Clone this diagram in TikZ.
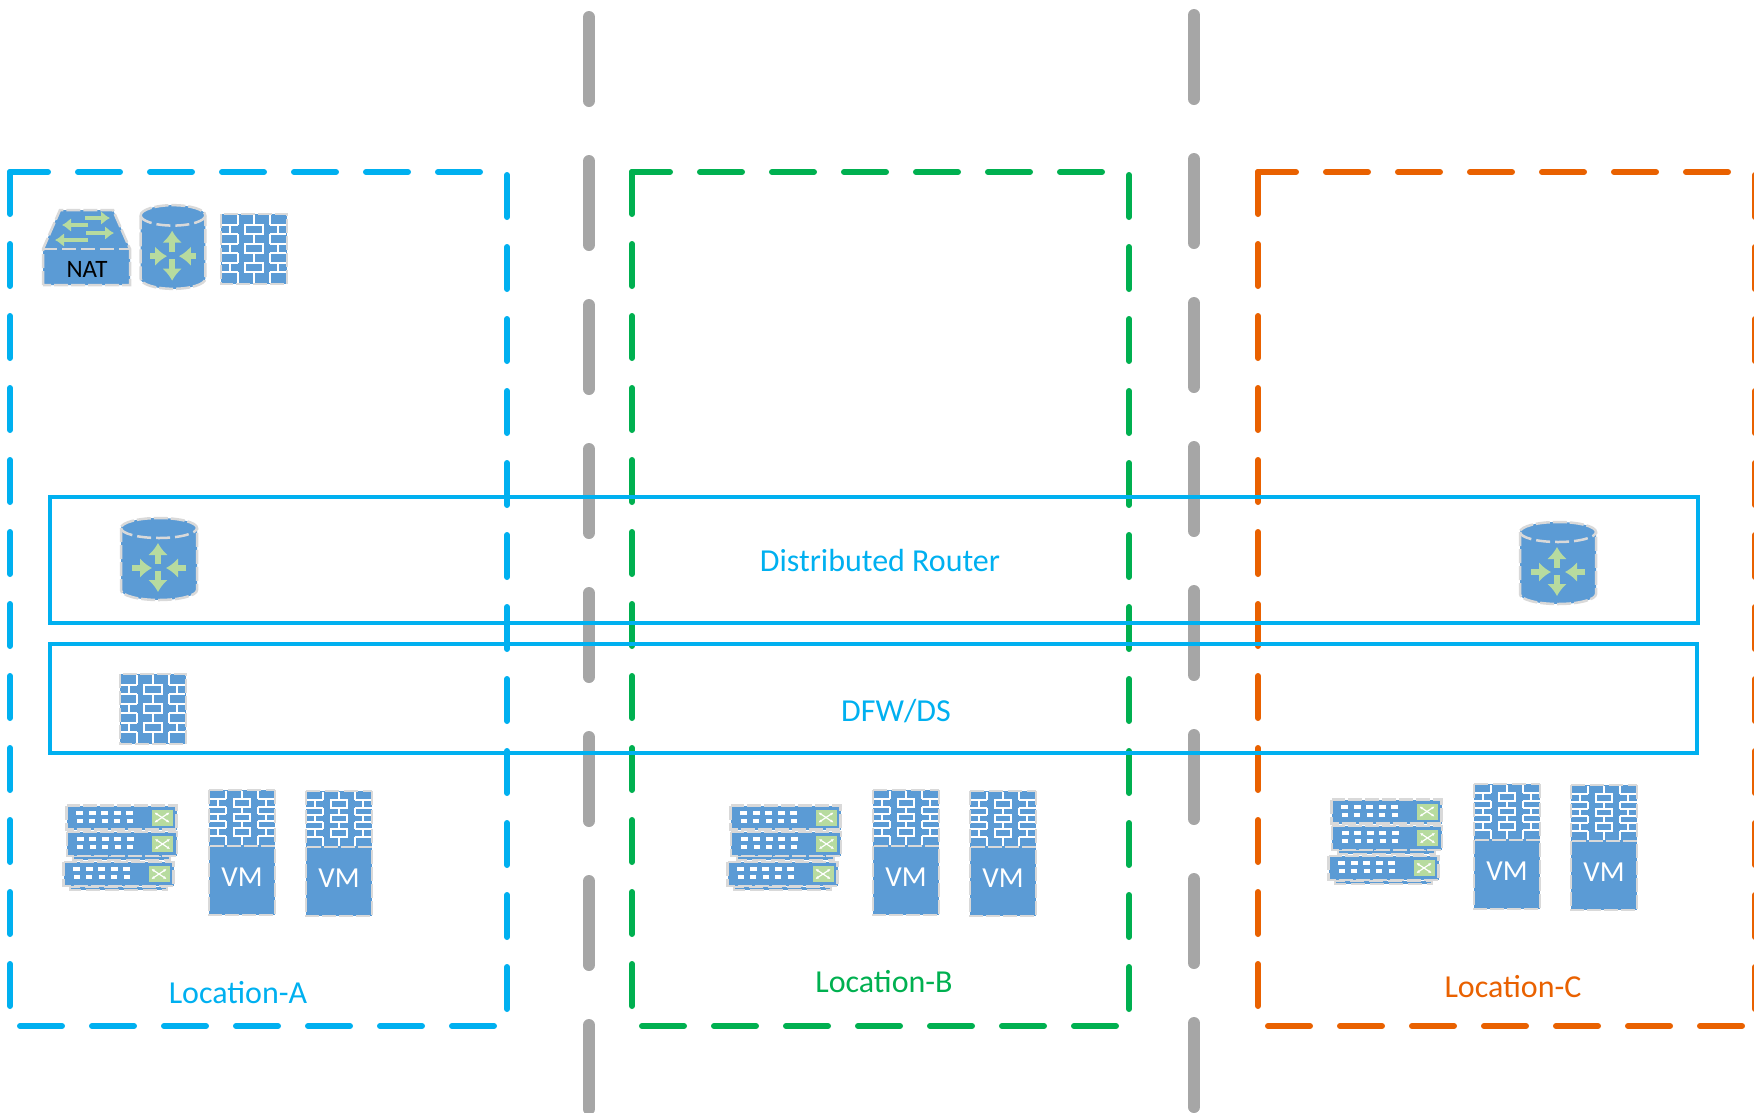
\documentclass[tikz,border=0pt]{standalone}
\usepackage{fontspec}
\setmainfont{Carlito}
\usetikzlibrary{arrows.meta}
\definecolor{zoneblue}{HTML}{00B0F0}
\definecolor{zonegreen}{HTML}{00B050}
\definecolor{zoneorange}{HTML}{E96100}
\definecolor{icon}{HTML}{5B9BD5}
\definecolor{iconedge}{HTML}{D9D9D9}
\definecolor{arrowgreen}{HTML}{B7DB9F}
\definecolor{divider}{HTML}{A6A6A6}
\tikzset{
    %Define style for the zones
    zoneline/.style={line width=6pt, line cap=round, line join=round, dash pattern=on 42pt off 30pt},
    divline/.style={draw=divider, line width=12pt, line cap=round, dash pattern=on 84pt off 60pt},
    band/.style={draw=zoneblue, line width=4pt},
    % Define style for labels
    zonelabel/.style={font=\fontsize{32pt}{32pt}\selectfont},
    % Define style for the icons
    iconbody/.style={fill=icon, draw=iconedge, line width=2.5pt, dash pattern=on 14pt off 3pt},
    iconlip/.style={draw=iconedge, line width=2.5pt, dash pattern=on 14pt off 5pt},
    brick/.style={draw=white, line width=1.8pt},
    flow/.style={draw=arrowgreen, line width=6pt, -{Latex[length=12pt,width=20pt]}},
    smallflow/.style={draw=arrowgreen, line width=4.5pt, -{Latex[length=9pt,width=14pt]}},
    % Location frame, origin at its top left corner
    pics/zoneframe/.style={code={
        \draw[pic actions, zoneline, dash phase=4pt] (0,0) -- (470,0);
        \draw[pic actions, zoneline] (0,0) -- (0,834);
        \draw[pic actions, zoneline] (497,3) -- (497,837);
        \draw[pic actions, zoneline] (10,854) -- (484,854);
    }},
    % Router, origin in the middle
    pics/routericon/.style={code={
        \draw[iconbody] (-38,-31) -- (-38,31) arc[start angle=180,end angle=0,x radius=38,y radius=10]
              -- (38,-31) arc[start angle=0,end angle=-180,x radius=38,y radius=10] -- cycle;
        \draw[iconlip] (-38,-31) arc[start angle=180,end angle=0,x radius=38,y radius=10];
        \draw[flow] (-1,5) -- (-1,-16);
        \draw[flow] (-1,12) -- (-1,33);
        \draw[flow] (-27,9) -- (-7,9);
        \draw[flow] (27,9) -- (7,9);
    }},
    % Brick wall, origin in the middle
    pics/wallicon/.style={code={
        \draw[iconbody] (-33,-35) rectangle (33,35);
        \foreach \rowa/\rowb in {-24/-15,-5/4,14/23}{
            \draw[brick] (-32,\rowa) -- (-16,\rowa) (-32,\rowb) -- (-16,\rowb) (-24,\rowa) -- (-24,\rowb);
            \draw[brick] (32,\rowa) -- (16,\rowa) (32,\rowb) -- (16,\rowb) (24,\rowa) -- (24,\rowb);
            \draw[brick] (-9,\rowa) rectangle (9,\rowb);
        }
        \foreach \stemx in {-16,0,16}{
            \draw[brick] (\stemx,-34) -- (\stemx,-24) (\stemx,-15) -- (\stemx,-5)
                         (\stemx,4) -- (\stemx,14) (\stemx,23) -- (\stemx,34);
        }
    }},
    % VM, brick wall over a plain box
    pics/vmicon/.style={code={
        \fill[icon] (-33,-62) rectangle (33,63);
        \foreach \rowa/\rowb in {-53/-45,-38/-31,-24/-16}{
            \draw[brick] (-33,\rowa) -- (-16,\rowa) (-33,\rowb) -- (-16,\rowb) (-24,\rowa) -- (-24,\rowb);
            \draw[brick] (33,\rowa) -- (16,\rowa) (33,\rowb) -- (16,\rowb) (24,\rowa) -- (24,\rowb);
            \draw[brick] (-8,\rowa) rectangle (8,\rowb);
        }
        \foreach \stemx in {-16,0,16}{
            \draw[brick] (\stemx,-61) -- (\stemx,-53) (\stemx,-45) -- (\stemx,-38)
                         (\stemx,-31) -- (\stemx,-24) (\stemx,-16) -- (\stemx,-7);
        }
        \draw[iconbody, fill=none] (-33,-6) -- (-33,63) -- (33,63) -- (33,-6) -- cycle;
        \draw[iconlip] (-33,-62) -- (33,-62);
        \draw[iconlip] (-33,-62) -- (-33,-6) (33,-62) -- (33,-6);
        \node[text=white, font=\fontsize{29pt}{29pt}\selectfont] (-name) at (0,25) {VM};
    }},
    % One switch of the stack
    pics/switchicon/.style={code={
        \draw[iconbody] (-55,-12) rectangle (55,12);
        \foreach \portx in {-42,-29.5,-17,-4.5,8}{
            \fill[white] (\portx-3.5,-7) rectangle (\portx+3.5,-3);
            \fill[white] (\portx-3,1) rectangle (\portx+3,5);
        }
        \fill[arrowgreen] (30,-8) rectangle (51,8);
        \draw[white, line width=1.2pt, {Latex[length=3pt,width=3pt]}-{Latex[length=3pt,width=3pt]}] (33,-5) -- (48,5);
        \draw[white, line width=1.2pt, {Latex[length=3pt,width=3pt]}-{Latex[length=3pt,width=3pt]}] (33,5) -- (48,-5);
    }},
    % Stack of three switches, origin in the middle
    pics/stackicon/.style={code={
        \draw[iconlip, fill=icon] (-47,10) rectangle (50,14);
        \draw[iconlip, fill=icon] (-50,41) rectangle (47,44);
        \pic (-top) at (1.5,-28.5) {switchicon};
        \pic (-mid) at (2,-2) {switchicon};
        \pic (-low) at (-1.5,28) {switchicon};
    }},
    % Switch with the NAT label, origin in the middle
    pics/naticon/.style={code={
        \draw[iconbody] (-44,38) -- (-44,2) -- (-27,-37) -- (26,-37) -- (43,2) -- (43,38) -- cycle;
        \draw[iconlip] (-44,2) -- (43,2);
        \draw[smallflow] (-2,-29) -- (23,-29);
        \draw[smallflow] (1,-22) -- (-25,-22);
        \draw[smallflow] (-1,-14) -- (27,-14);
        \draw[smallflow] (1,-7) -- (-32,-7);
        \node[text=black, font=\fontsize{25pt}{25pt}\selectfont] (-name) at (0,22) {NAT};
    }},
    % Switches and two VMs, origin at the left VM
    pics/hostgroup/.style={code={
        \pic (-stack) at (-122,-6) {stackicon};
        \pic (-vm one) at (0,0) {vmicon};
        \pic (-vm two) at (97,1) {vmicon};
    }},
}
\begin{document}
\begin{tikzpicture}[x=1pt,y=-1pt]
\useasboundingbox (0,0) rectangle (1754,1112);

% dividers between the locations
\draw[divline] (589,17) -- (589,1112);
\draw[divline] (1194,15) -- (1194,1112);

% locations
\pic[draw=zoneblue] (frame a) at (10,172) {zoneframe};
\pic[draw=zonegreen] (frame b) at (632,172) {zoneframe};
\pic[draw=zoneorange] (frame c) at (1258,172) {zoneframe};

% shared services
\draw[band] (50,497) rectangle (1698,623);
\draw[band] (50,644) rectangle (1697,753);

\node[zonelabel, text=zoneblue] (router label) at (880,560) {Distributed Router};
\node[zonelabel, text=zoneblue] (dfw label) at (896,711) {DFW/DS};
\node[zonelabel, text=zoneblue] (location a) at (238,993) {Location-A};
\node[zonelabel, text=zonegreen] (location b) at (884,982) {Location-B};
\node[zonelabel, text=zoneorange] (location c) at (1513,987) {Location-C};

% icons
\pic (nat) at (87,247) {naticon};
\pic (edge router) at (173,247) [xscale=0.85,yscale=1.02] {routericon};
\pic (edge wall) at (254,249) {wallicon};
\pic (router a) at (159,559) {routericon};
\pic (router c) at (1558,563) {routericon};
\pic (wall a) at (153,709) {wallicon};
\pic (hosts a) at (242,852) {hostgroup};
\pic (hosts b) at (906,852) {hostgroup};
\pic (hosts c) at (1507,846) {hostgroup};
\end{tikzpicture}
\end{document}
